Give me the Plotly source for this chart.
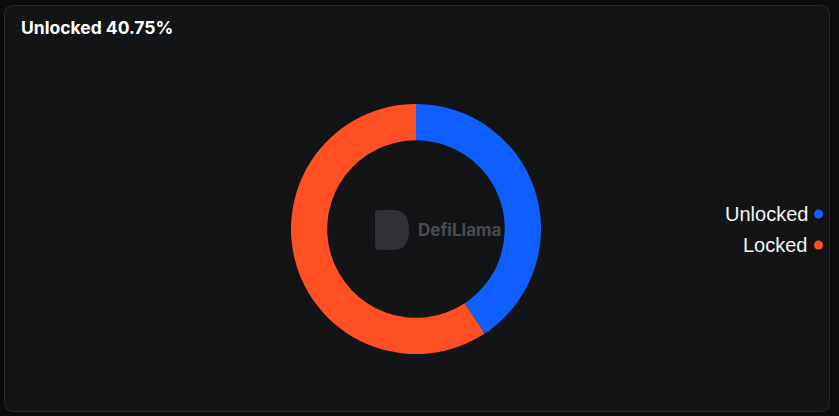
import plotly.graph_objects as go

labels = ["Unlocked", "Locked"]
values = [40.75, 59.25]
colors = ["#0f5fff", "#ff5024"]
title_text = "Unlocked 40.75%"
watermark = "DefiLlama"

W, H = 839, 416
L, T, PW, PH = 166, 104, 500, 250

def px(x):
    return (x - L) / PW

def py(y):
    return (T + PH - y) / PH

fig = go.Figure(go.Pie(
    labels=labels, values=values, hole=0.71, sort=False,
    direction="clockwise", rotation=0,
    marker=dict(colors=colors, line=dict(width=0)),
    textinfo="none", hoverinfo="label+percent", showlegend=False,
))

# card background with rounded corners
x0, x1, y0, y1, r = 4.5, 829.5, 5.5, 411.5, 9
path = (f"M {px(x0+r)},{py(y0)} L {px(x1-r)},{py(y0)} Q {px(x1)},{py(y0)} {px(x1)},{py(y0+r)} "
        f"L {px(x1)},{py(y1-r)} Q {px(x1)},{py(y1)} {px(x1-r)},{py(y1)} "
        f"L {px(x0+r)},{py(y1)} Q {px(x0)},{py(y1)} {px(x0)},{py(y1-r)} "
        f"L {px(x0)},{py(y0+r)} Q {px(x0)},{py(y0)} {px(x0+r)},{py(y0)} Z")
shapes = [dict(type="path", xref="paper", yref="paper", path=path,
               fillcolor="#131416", line=dict(color="#27292c", width=1), layer="below")]

# watermark logo (approximate)
lx0, lx1, ly0, ly1 = 375, 409, 210, 250
lpath = (f"M {px(lx0+4)},{py(ly0)} L {px(lx1-16)},{py(ly0)} Q {px(lx1)},{py(ly0)} {px(lx1)},{py((ly0+ly1)/2)} "
         f"Q {px(lx1)},{py(ly1)} {px(lx1-16)},{py(ly1)} L {px(lx0+4)},{py(ly1)} "
         f"Q {px(lx0)},{py(ly1)} {px(lx0)},{py(ly1-4)} L {px(lx0)},{py(ly0+4)} Q {px(lx0)},{py(ly0)} {px(lx0+4)},{py(ly0)} Z")
shapes.append(dict(type="path", xref="paper", yref="paper", path=lpath,
                   fillcolor="#303134", line=dict(width=0), layer="above"))

annotations = [
    dict(text=f"<b>{title_text}</b>", x=px(19), y=py(28), xref="paper", yref="paper",
         xanchor="left", yanchor="middle", showarrow=False,
         font=dict(family="Inter, sans-serif", size=17.5, color="#ffffff")),
    dict(text=f"<b>{watermark}</b>", x=px(416), y=py(230), xref="paper", yref="paper",
         xanchor="left", yanchor="middle", showarrow=False,
         font=dict(family="Inter, sans-serif", size=17, color="#4a4b4e")),
]
for i, (lab, col) in enumerate(zip(labels, colors)):
    yy = 214 + i * 31
    annotations.append(dict(text=lab, x=px(810), y=py(yy), xref="paper", yref="paper",
                            xanchor="right", yanchor="middle", showarrow=False,
                            font=dict(family="Liberation Sans, Arial, sans-serif", size=20, color="#f5f5f5")))
    shapes.append(dict(type="circle", xref="paper", yref="paper",
                       x0=px(814), x1=px(823), y0=py(yy - 4.5), y1=py(yy + 4.5),
                       fillcolor=col, line=dict(width=0)))

fig.update_layout(
    width=W, height=H,
    margin=dict(l=L, r=W - L - PW, t=T, b=H - T - PH, autoexpand=False),
    paper_bgcolor="#0a0b0d", plot_bgcolor="#131416",
    shapes=shapes, annotations=annotations, showlegend=False,
)

fig.write_html("out.html", config={"displayModeBar": False},
               post_script="document.body.style.margin='0';document.body.style.overflow='hidden';document.body.style.background='#0a0b0d';")
